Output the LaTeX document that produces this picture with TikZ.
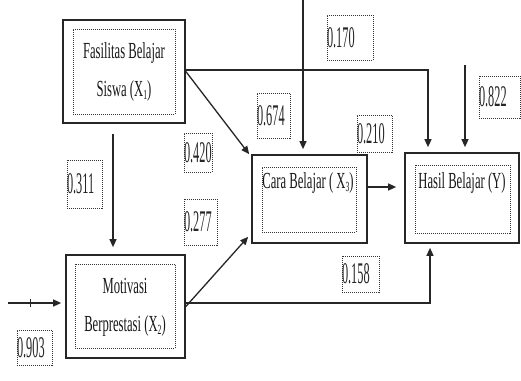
\documentclass[tikz,border=0pt]{standalone}
\usepackage{fontspec}
\setmainfont{Liberation Serif}
\newfontfamily\boxfont[FakeStretch=0.55]{Liberation Serif}
\newfontfamily\numfont[FakeStretch=0.41]{Liberation Serif}
\usetikzlibrary{arrows.meta}
\newcommand\mysub[1]{\raisebox{-0.35ex}{\fontsize{14}{14}\selectfont #1}}
\begin{document}
\begin{tikzpicture}[x=1pt,y=-1pt,
  outerbox/.style={draw=black!85,line width=1.7pt,inner sep=0pt},
  innerbox/.style={draw=black!80,line width=0.9pt,dash pattern=on 1pt off 1pt,inner sep=0pt},
  boxtxt/.style={align=center,inner sep=0pt,font=\boxfont\fontsize{23pt}{38pt}\selectfont,text=black!90},
  lbl/.style={draw=black!80,line width=0.9pt,dash pattern=on 1pt off 1pt,inner sep=0pt,
    align=left,font=\numfont\fontsize{30pt}{30pt}\selectfont,text=black!85},
  arr/.style={draw=black!85,line width=1.3pt,-{Triangle[length=8pt,width=7pt]}}
]
\useasboundingbox (0,0) rectangle (521,380);

% boxes
\node[outerbox,minimum width=122pt,minimum height=103pt] (x1) at (124,71.5) {};
\node[innerbox,minimum width=102pt,minimum height=85pt] (x1i) at (124,71.5) {};
\node[boxtxt] (x1t) at (124,71.5) {Fasilitas Belajar\\Siswa (X\mysub{1})};

\node[outerbox,minimum width=119pt,minimum height=103pt] (x2) at (125.5,306.5) {};
\node[innerbox,minimum width=100pt,minimum height=84pt] (x2i) at (125,306) {};
\node[boxtxt] (x2t) at (125,307) {Motivasi\\Berprestasi (X\mysub{2})};

\node[outerbox,minimum width=115pt,minimum height=88pt] (x3) at (309.5,199) {};
\node[innerbox,minimum width=94pt,minimum height=65pt] (x3i) at (309,199.5) {};
\node[boxtxt,anchor=base] (x3t) at (308,188) {Cara Belajar ( X\mysub{3})};

\node[outerbox,minimum width=114pt,minimum height=90pt] (y) at (462,198) {};
\node[innerbox,minimum width=95pt,minimum height=68pt] (yi) at (462.5,199) {};
\node[boxtxt,anchor=base] (yt) at (462,188) {Hasil Belajar (Y)};

% labels
\node[lbl,minimum width=35pt,minimum height=48pt,text width=35pt] (l311) at (84.5,184) {0.311};
\node[lbl,minimum width=28pt,minimum height=39pt,text width=28pt] (l420) at (198,152.5) {0.420};
\node[lbl,minimum width=33pt,minimum height=46pt,text width=33pt] (l277) at (200.5,222) {0.277};
\node[lbl,minimum width=35pt,minimum height=35pt,text width=35pt] (l903) at (34.5,347.5) {0.903};
\node[lbl,minimum width=33pt,minimum height=45pt,text width=33pt] (l674) at (273.5,115.5) {0.674};
\node[lbl,minimum width=46pt,minimum height=45pt,text width=46pt] (l170) at (350,37.5) {0.170};
\node[lbl,minimum width=35pt,minimum height=37pt,text width=35pt] (l210) at (374.5,133.5) {0.210};
\node[lbl,minimum width=41pt,minimum height=42pt,text width=41pt] (l822) at (499.5,97) {0.822};
\node[lbl,minimum width=37pt,minimum height=36pt,text width=37pt] (l158) at (360.5,274) {0.158};

% external sources
\coordinate (e2) at (8,303);
\coordinate (e3) at (303,0);
\coordinate (e4) at (465,65);

% connectors
\draw[arr] ([xshift=-11pt,yshift=-10pt]x1.south) -- ([xshift=-12.5pt,yshift=7pt]x2.north);
\draw[arr] (x1.east) -- ([xshift=-2pt]x3.north west);
\draw[arr] ([yshift=1.5pt]x1.east) -| ([xshift=-34pt,yshift=5pt]y.north);
\draw[arr,shorten >=5pt] (e3) -- (e3 |- x3.north);
\draw[arr,shorten >=5pt] (e4) -- (e4 |- y.north);
\draw[arr] ([yshift=12pt]x3.east) -- ([xshift=-8pt,yshift=11pt]y.west);
\draw[arr] (x2.east) -- ([xshift=-3pt,yshift=7pt]x3.south west);
\draw[arr] ([yshift=3.5pt]x2.east) -| ([xshift=-32pt,yshift=-4pt]y.south);
\draw[arr,shorten >=4pt] (e2) -- (e2 -| x2.west);
\draw[draw=black!85,line width=1pt] (30,299) -- (30,307);
\end{tikzpicture}
\end{document}
